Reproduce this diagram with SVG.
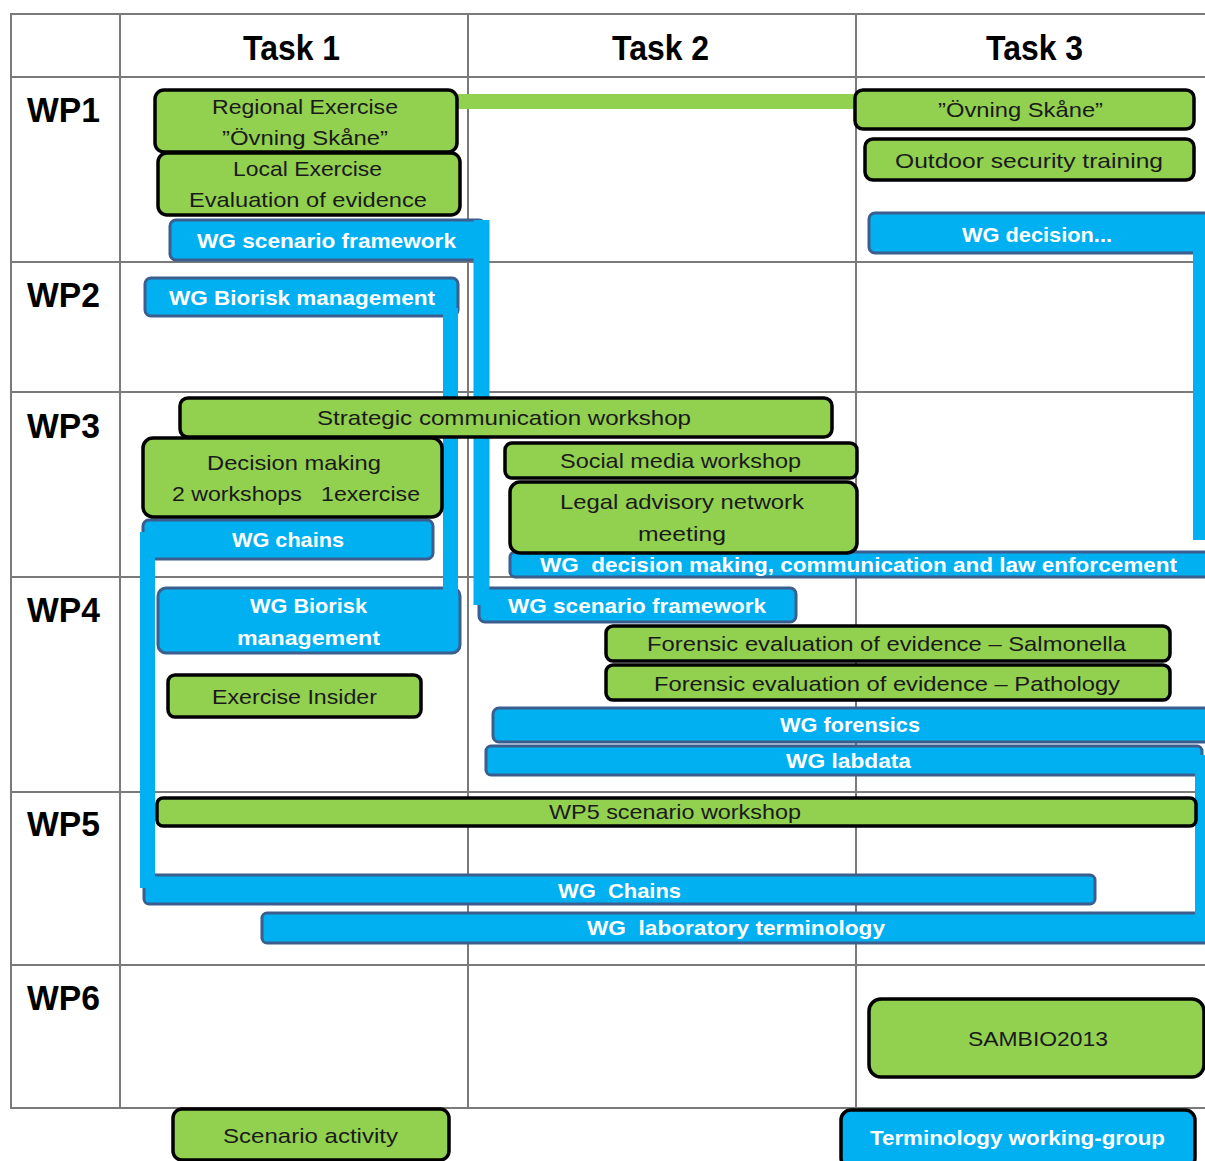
<svg xmlns="http://www.w3.org/2000/svg" width="1205" height="1161" viewBox="0 0 1205 1161">
<style>
.grid{stroke:#7a7a7a;stroke-width:2;fill:none}
.g{fill:#92D050;stroke:#000;stroke-width:3.5}
.b{fill:#00B0F0;stroke:#3B5E8F;stroke-width:3}
.bk{fill:#00B0F0;stroke:#000;stroke-width:3.5}
.con{stroke:#00B0F0;fill:none}
.cg{stroke:#92D050;fill:none}
.hd{font-family:"Liberation Sans",Arial,sans-serif;font-weight:bold;font-size:35px;fill:#000}
.tg{font-family:"Liberation Sans",Arial,sans-serif;font-size:21px;fill:#1a1a1a;white-space:pre}
.tb{font-family:"Liberation Sans",Arial,sans-serif;font-size:21px;font-weight:bold;fill:#fff;white-space:pre}
</style>
<rect width="1205" height="1161" fill="#fff"/>
<g id="grid">
<path class="grid" d="M10 14H1205M10 77H1205M10 262H1205M10 392H1205M10 577H1205M10 792H1205M10 965H1205M10 1108H1205M11 14V1108M120 14V1108M468 14V1108M856 14V1108"/>
<text class="hd" x="243" y="60" textLength="97" lengthAdjust="spacingAndGlyphs">Task 1</text>
<text class="hd" x="612" y="60" textLength="97" lengthAdjust="spacingAndGlyphs">Task 2</text>
<text class="hd" x="986" y="60" textLength="97" lengthAdjust="spacingAndGlyphs">Task 3</text>
<text class="hd" x="27" y="122" textLength="73" lengthAdjust="spacingAndGlyphs">WP1</text>
<text class="hd" x="27" y="307" textLength="73" lengthAdjust="spacingAndGlyphs">WP2</text>
<text class="hd" x="27" y="438" textLength="73" lengthAdjust="spacingAndGlyphs">WP3</text>
<text class="hd" x="27" y="622" textLength="73" lengthAdjust="spacingAndGlyphs">WP4</text>
<text class="hd" x="27" y="836" textLength="73" lengthAdjust="spacingAndGlyphs">WP5</text>
<text class="hd" x="27" y="1010" textLength="73" lengthAdjust="spacingAndGlyphs">WP6</text>
</g>
<g id="wg_scenario_1"><rect class="b" x="170" y="220" width="315" height="40" rx="6"/><text class="tb" x="197" y="248" textLength="259" lengthAdjust="spacingAndGlyphs">WG scenario framework</text></g>
<g id="wg_decision_1"><rect class="b" x="869" y="213" width="341" height="40" rx="6"/><text class="tb" x="962" y="242" textLength="150" lengthAdjust="spacingAndGlyphs">WG decision...</text></g>
<g id="wg_biorisk_2"><rect class="b" x="145" y="278" width="313" height="38" rx="6"/><text class="tb" x="169" y="305" textLength="266" lengthAdjust="spacingAndGlyphs">WG Biorisk management</text></g>
<g id="wg_chains_3"><rect class="b" x="143" y="520" width="290" height="39" rx="6"/><text class="tb" x="232" y="547" textLength="112" lengthAdjust="spacingAndGlyphs">WG chains</text></g>
<g id="wg_law"><rect class="b" x="510" y="552" width="702" height="25" rx="5"/><text class="tb" x="540" y="572" textLength="637" lengthAdjust="spacingAndGlyphs">WG  decision making, communication and law enforcement</text></g>
<g id="wg_biorisk_4"><rect class="b" x="158" y="588" width="302" height="65" rx="8"/><text class="tb" x="250" y="613" textLength="117" lengthAdjust="spacingAndGlyphs">WG Biorisk</text><text class="tb" x="237" y="645" textLength="143" lengthAdjust="spacingAndGlyphs">management</text></g>
<g id="wg_scenario_4"><rect class="b" x="479" y="588" width="317" height="34" rx="6"/><text class="tb" x="508" y="613" textLength="258" lengthAdjust="spacingAndGlyphs">WG scenario framework</text></g>
<g id="wg_forensics"><rect class="b" x="493" y="708" width="719" height="34" rx="6"/><text class="tb" x="780" y="732" textLength="140" lengthAdjust="spacingAndGlyphs">WG forensics</text></g>
<g id="wg_labdata"><rect class="b" x="486" y="746" width="716" height="29" rx="5"/><text class="tb" x="786" y="768" textLength="125" lengthAdjust="spacingAndGlyphs">WG labdata</text></g>
<g id="wg_chains_5"><rect class="b" x="144" y="875" width="951" height="29" rx="5"/><text class="tb" x="558" y="898" textLength="123" lengthAdjust="spacingAndGlyphs">WG  Chains</text></g>
<g id="wg_labterm"><rect class="b" x="262" y="913" width="950" height="30" rx="5"/><text class="tb" x="587" y="935" textLength="298" lengthAdjust="spacingAndGlyphs">WG  laboratory terminology</text></g>
<g id="connectors">
<path class="cg" stroke-width="15" d="M455 101.5H857"/>
<path class="con" stroke-width="16" d="M481.5 220V605"/>
<path class="con" stroke-width="15" d="M450.5 308V600"/>
<path class="con" stroke-width="15" d="M147.5 532V888"/>
<path class="con" stroke-width="12" d="M1199 222V540"/>
<path class="con" stroke-width="10" d="M1200 755V916"/>
</g>
<g id="regional_exercise"><rect class="g" x="155" y="90" width="302" height="62" rx="9"/><text class="tg" x="212" y="114" textLength="186" lengthAdjust="spacingAndGlyphs">Regional Exercise</text><text class="tg" x="222" y="145" textLength="166" lengthAdjust="spacingAndGlyphs">”Övning Skåne”</text></g>
<g id="local_exercise"><rect class="g" x="158" y="153" width="302" height="62" rx="9"/><text class="tg" x="233" y="176" textLength="149" lengthAdjust="spacingAndGlyphs">Local Exercise</text><text class="tg" x="189" y="207" textLength="238" lengthAdjust="spacingAndGlyphs">Evaluation of evidence</text></g>
<g id="ovning_skane"><rect class="g" x="855" y="90" width="339" height="39" rx="8"/><text class="tg" x="938" y="117" textLength="165" lengthAdjust="spacingAndGlyphs">”Övning Skåne”</text></g>
<g id="outdoor_training"><rect class="g" x="865" y="139" width="329" height="41" rx="8"/><text class="tg" x="895" y="168" textLength="268" lengthAdjust="spacingAndGlyphs">Outdoor security training</text></g>
<g id="strategic_comm"><rect class="g" x="180" y="398" width="652" height="39" rx="8"/><text class="tg" x="317" y="425" textLength="374" lengthAdjust="spacingAndGlyphs">Strategic communication workshop</text></g>
<g id="decision_making"><rect class="g" x="143" y="438" width="299" height="79" rx="10"/><text class="tg" x="207" y="470" textLength="174" lengthAdjust="spacingAndGlyphs">Decision making</text><text class="tg" x="172" y="501" textLength="248" lengthAdjust="spacingAndGlyphs">2 workshops   1exercise</text></g>
<g id="social_media"><rect class="g" x="505" y="443" width="352" height="35" rx="7"/><text class="tg" x="560" y="468" textLength="241" lengthAdjust="spacingAndGlyphs">Social media workshop</text></g>
<g id="legal_advisory"><rect class="g" x="510" y="482" width="347" height="71" rx="10"/><text class="tg" x="560" y="509" textLength="244" lengthAdjust="spacingAndGlyphs">Legal advisory network</text><text class="tg" x="638" y="541" textLength="88" lengthAdjust="spacingAndGlyphs">meeting</text></g>
<g id="forensic_salmonella"><rect class="g" x="606" y="626" width="564" height="35" rx="7"/><text class="tg" x="647" y="651" textLength="479" lengthAdjust="spacingAndGlyphs">Forensic evaluation of evidence – Salmonella</text></g>
<g id="forensic_pathology"><rect class="g" x="606" y="665" width="564" height="35" rx="7"/><text class="tg" x="654" y="691" textLength="466" lengthAdjust="spacingAndGlyphs">Forensic evaluation of evidence – Pathology</text></g>
<g id="exercise_insider"><rect class="g" x="168" y="675" width="253" height="42" rx="7"/><text class="tg" x="212" y="704" textLength="165" lengthAdjust="spacingAndGlyphs">Exercise Insider</text></g>
<g id="wp5_workshop"><rect class="g" x="157" y="798" width="1039" height="28" rx="6"/><text class="tg" x="549" y="819" textLength="252" lengthAdjust="spacingAndGlyphs">WP5 scenario workshop</text></g>
<g id="sambio2013"><rect class="g" x="869" y="999" width="335" height="78" rx="12"/><text class="tg" x="968" y="1046" textLength="140" lengthAdjust="spacingAndGlyphs">SAMBIO2013</text></g>
<g id="scenario_activity"><rect class="g" x="173" y="1109" width="276" height="51" rx="9"/><text class="tg" x="223" y="1143" textLength="175" lengthAdjust="spacingAndGlyphs">Scenario activity</text></g>
<g id="terminology_wg"><rect class="bk" x="841" y="1110" width="354" height="58" rx="10"/><text class="tb" x="870" y="1145" textLength="295" lengthAdjust="spacingAndGlyphs">Terminology working-group</text></g>
</svg>
